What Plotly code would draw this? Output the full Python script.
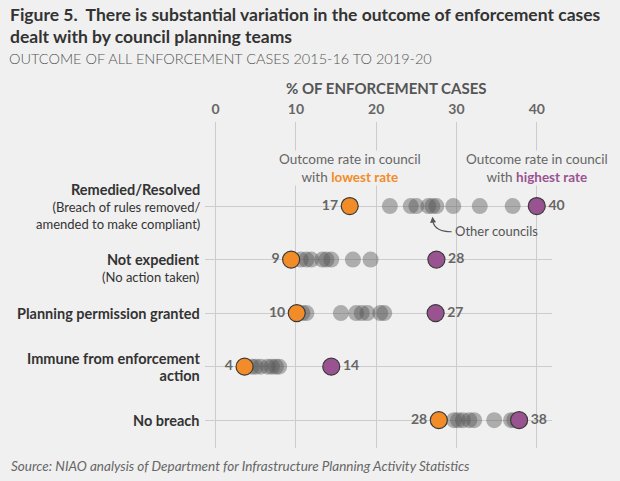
import plotly.graph_objects as go

# ---- data ----
categories = ["Remedied/Resolved", "Not expedient", "Planning permission granted",
              "Immune from enforcement action", "No breach"]
lowest_rate = [16.7, 9.4, 10.1, 3.6, 27.8]
highest_rate = [40.0, 27.5, 27.4, 14.4, 37.8]
other_councils = [
    [21.7, 24.3, 25.0, 26.5, 27.0, 27.5, 29.6, 32.9, 37.0],
    [10.6, 11.3, 11.9, 13.3, 13.8, 14.4, 17.1, 19.3],
    [10.8, 11.3, 15.6, 17.5, 18.2, 18.9, 20.5, 21.0],
    [4.5, 5.0, 5.6, 6.5, 7.0, 7.5, 7.9],
    [29.7, 30.2, 30.8, 31.6, 32.2, 34.7, 36.8, 37.2],
]
row_titles = ["Remedied/Resolved", "Not expedient", "Planning permission granted",
              "Immune from enforcement<br>action", "No breach"]
row_notes = ["(Breach of rules removed/<br>amended to make compliant)", "(No action taken)",
             "", "", ""]
x_ticks = [0, 10, 20, 30, 40]

ORANGE = "#F28C28"
PURPLE = "#9A5391"
BG = "#f0f0f0"
FONT = "Lato"

W, H = 620, 481
ML, MR, MT, MB = 205, 68, 122, 33


def paper(px, py):
    # pixel position on the page -> paper coordinates
    return ((px - ML) / (W - ML - MR), (H - MB - py) / (H - MT - MB))


rows = list(range(len(categories)))

fig = go.Figure()

for i, vals in enumerate(other_councils):
    fig.add_trace(go.Scatter(
        x=vals, y=[i] * len(vals), mode="markers",
        marker=dict(size=16, color="rgba(85,85,85,0.43)", line=dict(width=0)),
        hoverinfo="x", showlegend=False))

fig.add_trace(go.Scatter(
    x=lowest_rate, y=rows, mode="markers+text", cliponaxis=False,
    text=[str(round(v)) for v in lowest_rate], textposition="middle left",
    textfont=dict(family=FONT, size=14, color="#666666", weight="bold"),
    marker=dict(size=17, color=ORANGE, line=dict(color="#3a3a3a", width=1.2)),
    showlegend=False))

fig.add_trace(go.Scatter(
    x=highest_rate, y=rows, mode="markers+text", cliponaxis=False,
    text=[str(round(v)) for v in highest_rate], textposition="middle right",
    textfont=dict(family=FONT, size=14, color="#666666", weight="bold"),
    marker=dict(size=17, color=PURPLE, line=dict(color="#3a3a3a", width=1.2)),
    showlegend=False))

ann = []

# row labels on the left
shifts = [0, -8, 0, 0, 0]
for i, (t, n) in enumerate(zip(row_titles, row_notes)):
    parts = ["<span style='font-size:14.5px'><b>%s</b></span>" % t.replace("<br>", "</b></span><br><span style='font-size:14.5px'><b>")]
    if n:
        parts.append(n)
    ann.append(dict(text="<br>".join(parts), xref="paper", x=0, xanchor="right", xshift=-3,
                    yref="y", y=i, yanchor="middle", yshift=shifts[i],
                    align="right", showarrow=False,
                    font=dict(family=FONT, size=13, color="#333333")))

# headings
x0, y0 = paper(8, 15)
ann.append(dict(text="<b>Figure 5.  There is substantial variation in the outcome of enforcement cases</b>",
                xref="paper", yref="paper", x=x0, y=y0, xanchor="left", yanchor="middle",
                showarrow=False, font=dict(family=FONT, size=17.5, color="#333333")))
x0, y0 = paper(8, 37)
ann.append(dict(text="<b>dealt with by council planning teams</b>",
                xref="paper", yref="paper", x=x0, y=y0, xanchor="left", yanchor="middle",
                showarrow=False, font=dict(family=FONT, size=17.5, color="#333333")))
x0, y0 = paper(7, 58)
ann.append(dict(text="OUTCOME OF ALL ENFORCEMENT CASES 2015-16 TO 2019-20",
                xref="paper", yref="paper", x=x0, y=y0, xanchor="left", yanchor="middle",
                showarrow=False, font=dict(family=FONT, size=14.5, color="#555555", weight=300)))
x0, y0 = paper(386, 88)
ann.append(dict(text="<b>% OF ENFORCEMENT CASES</b>",
                xref="paper", yref="paper", x=x0, y=y0, xanchor="center", yanchor="middle",
                showarrow=False, font=dict(family=FONT, size=15, color="#555555")))
x0, y0 = paper(9, 466)
ann.append(dict(text="<i>Source: NIAO analysis of Department for Infrastructure Planning Activity Statistics</i>",
                xref="paper", yref="paper", x=x0, y=y0, xanchor="left", yanchor="middle",
                showarrow=False, font=dict(family=FONT, size=13.5, color="#666666")))

# callouts
ann.append(dict(text="Outcome rate in council<br>with <b><span style='color:%s'>lowest rate</span></b>" % ORANGE,
                x=lowest_rate[0], y=-0.72, xanchor="center", yanchor="middle",
                showarrow=False, bgcolor=BG, borderpad=0,
                font=dict(family=FONT, size=13.5, color="#666666")))
ann.append(dict(text="Outcome rate in council<br>with <b><span style='color:%s'>highest rate</span></b>" % PURPLE,
                x=highest_rate[0], y=-0.72, xanchor="center", yanchor="middle",
                showarrow=False, bgcolor=BG, borderpad=0,
                font=dict(family=FONT, size=13.5, color="#666666")))
ann.append(dict(text="Other councils", x=29.6, y=0.47, xanchor="left", yanchor="middle",
                showarrow=False, font=dict(family=FONT, size=13, color="#555555")))
ann.append(dict(text="", x=27.0, y=0.2, ax=27.1, ay=0.33, axref="x", ayref="y",
                showarrow=True, arrowhead=2, arrowsize=1, arrowwidth=1.2, arrowcolor="#555555"))

fig.add_shape(type="path", path="M 29.4,0.48 Q 27.4,0.48 27.08,0.3",
              line=dict(color="#555555", width=1.2))

fig.update_layout(
    width=W, height=H, margin=dict(l=ML, r=MR, t=MT, b=MB),
    paper_bgcolor=BG, plot_bgcolor=BG,
    font=dict(family=FONT),
    annotations=ann,
    xaxis=dict(range=[-1.33, 41.9], side="top", tickvals=x_ticks,
               tickfont=dict(family=FONT, size=14, color="#666666", weight="bold"),
               showgrid=True, gridcolor="#cccccc", gridwidth=1, zeroline=False,
               showline=False, ticks="", ticklabelstandoff=4),
    yaxis=dict(range=[4.52, -1.57], tickvals=rows, showticklabels=False,
               showgrid=True, gridcolor="#cccccc", gridwidth=1, zeroline=False,
               showline=False, ticks=""),
)

fig.write_html("out.html", config={"displayModeBar": False},
               post_script="document.body.style.margin='0';document.body.style.background='%s';" % BG)
